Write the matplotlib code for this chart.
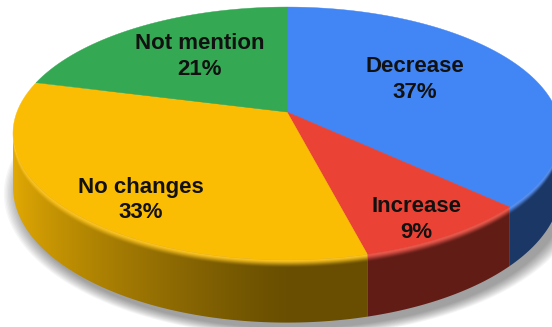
"""3D-style pie of expected change, drawn with a simple perspective projection."""
import matplotlib

matplotlib.use("Agg")
import matplotlib.pyplot as plt
import numpy as np
from matplotlib.colors import to_rgb
from matplotlib.patches import Polygon

labels = ["Decrease", "Increase", "No changes", "Not mention"]
shares = [37, 9, 33, 21]
colors = ["#4285F4", "#EA4335", "#FBBC04", "#34A853"]

# label placement: fraction of radius and small angular nudge (deg)
label_radius = [0.57, 0.87, 0.80, 0.60]
label_nudge = [-6, 2, -8, 2]

# projection of the unit disc (u right, v away from viewer)
W, HT = 552, 327
CX, CY = 287, 112
A, B = 270, 122.8
P = 0.17
H = 52


def project(u, v, drop=0.0):
    w = 1 + P * v
    return CX + A * u / w, CY - B * v / w + drop / w


def side_factor(theta):
    s = -np.sin(np.radians(theta))
    return 0.42 + 0.5 * np.clip(s, 0, 1) ** 1.2


fig = plt.figure(figsize=(W / 100, HT / 100), dpi=100)
ax = fig.add_axes([0, 0, 1, 1])
ax.set_xlim(0, W)
ax.set_ylim(HT, 0)
ax.axis("off")

# soft shadow under the disc
t = np.linspace(0, 2 * np.pi, 240)
sx, sy = project(np.cos(t), np.sin(t), H)
mx, my = sx.mean(), sy.mean()
for k in range(12):
    s = 1.0 + 0.005 * k
    ax.fill(mx + (sx - mx) * s + 6, my + (sy - my) * s + 6,
            color="#000000", alpha=0.035, lw=0, zorder=1)

bounds = np.concatenate([[0], np.cumsum(shares)]) / sum(shares) * 360

# front rim: visible between the two silhouette tangents
tan_r = np.degrees(np.arccos(-P))
tan_l = 360 - tan_r
rim_t = np.linspace(tan_r, tan_l, 800)
rim_x, rim_y = project(np.sin(np.radians(rim_t)), np.cos(np.radians(rim_t)))
rim_x, rim_t, rim_y = rim_x[::-1], rim_t[::-1], rim_y[::-1]

cols = np.arange(W) + 0.5
rows = np.arange(HT) + 0.5
theta_x = np.interp(cols, rim_x, rim_t)
ytop_x = np.interp(cols, rim_x, rim_y)
fac = side_factor(theta_x)[None, :]
dy = rows[:, None] - ytop_x[None, :]
bev = np.clip(dy / 8.0, 0, 1)
bev = bev * bev * (3 - 2 * bev)

# side walls: shaded gradient clipped to each slice's wall
for i, col in enumerate(colors):
    a0, a1 = max(bounds[i], tan_r), min(bounds[i + 1], tan_l)
    if a1 <= a0:
        continue
    th = np.radians(np.linspace(a0, a1, 200))
    tx, ty = project(np.sin(th), np.cos(th))
    bx, by = project(np.sin(th), np.cos(th), H)
    wall = np.column_stack([np.concatenate([tx, bx[::-1]]),
                            np.concatenate([ty, by[::-1]])])
    top = np.array(to_rgb(col))
    hi = top * 0.88 + 0.12
    side = top[None, None, :] * fac[..., None]
    img = hi[None, None, :] * (1 - bev[..., None]) + side * bev[..., None]
    img = np.clip(img, 0, 1)
    patch = Polygon(wall, closed=True, fc="none", ec="none")
    ax.add_patch(patch)
    im = ax.imshow(img, extent=[0, W, HT, 0], interpolation="bilinear",
                   zorder=2, aspect="auto")
    im.set_clip_path(patch)

# top faces
for i, col in enumerate(colors):
    th = np.radians(np.linspace(bounds[i], bounds[i + 1], 120))
    xs, ys = project(np.sin(th), np.cos(th))
    px = np.concatenate([[CX], xs])
    py = np.concatenate([[CY], ys])
    ax.fill(px, py, color=col, lw=0.3, ec=col, zorder=3)

ax.set_xlim(0, W)
ax.set_ylim(HT, 0)

# labels
for i, name in enumerate(labels):
    mid = np.radians(0.5 * (bounds[i] + bounds[i + 1]) + label_nudge[i])
    r = label_radius[i]
    lx, ly = project(r * np.sin(mid), r * np.cos(mid))
    ax.text(lx, ly, f"{name}\n{shares[i]}%", ha="center", va="center",
            fontsize=16, fontweight="bold", family="Liberation Sans",
            color="#111111", linespacing=1.3, zorder=4)

fig.savefig("out.png", dpi=100, facecolor="white")
